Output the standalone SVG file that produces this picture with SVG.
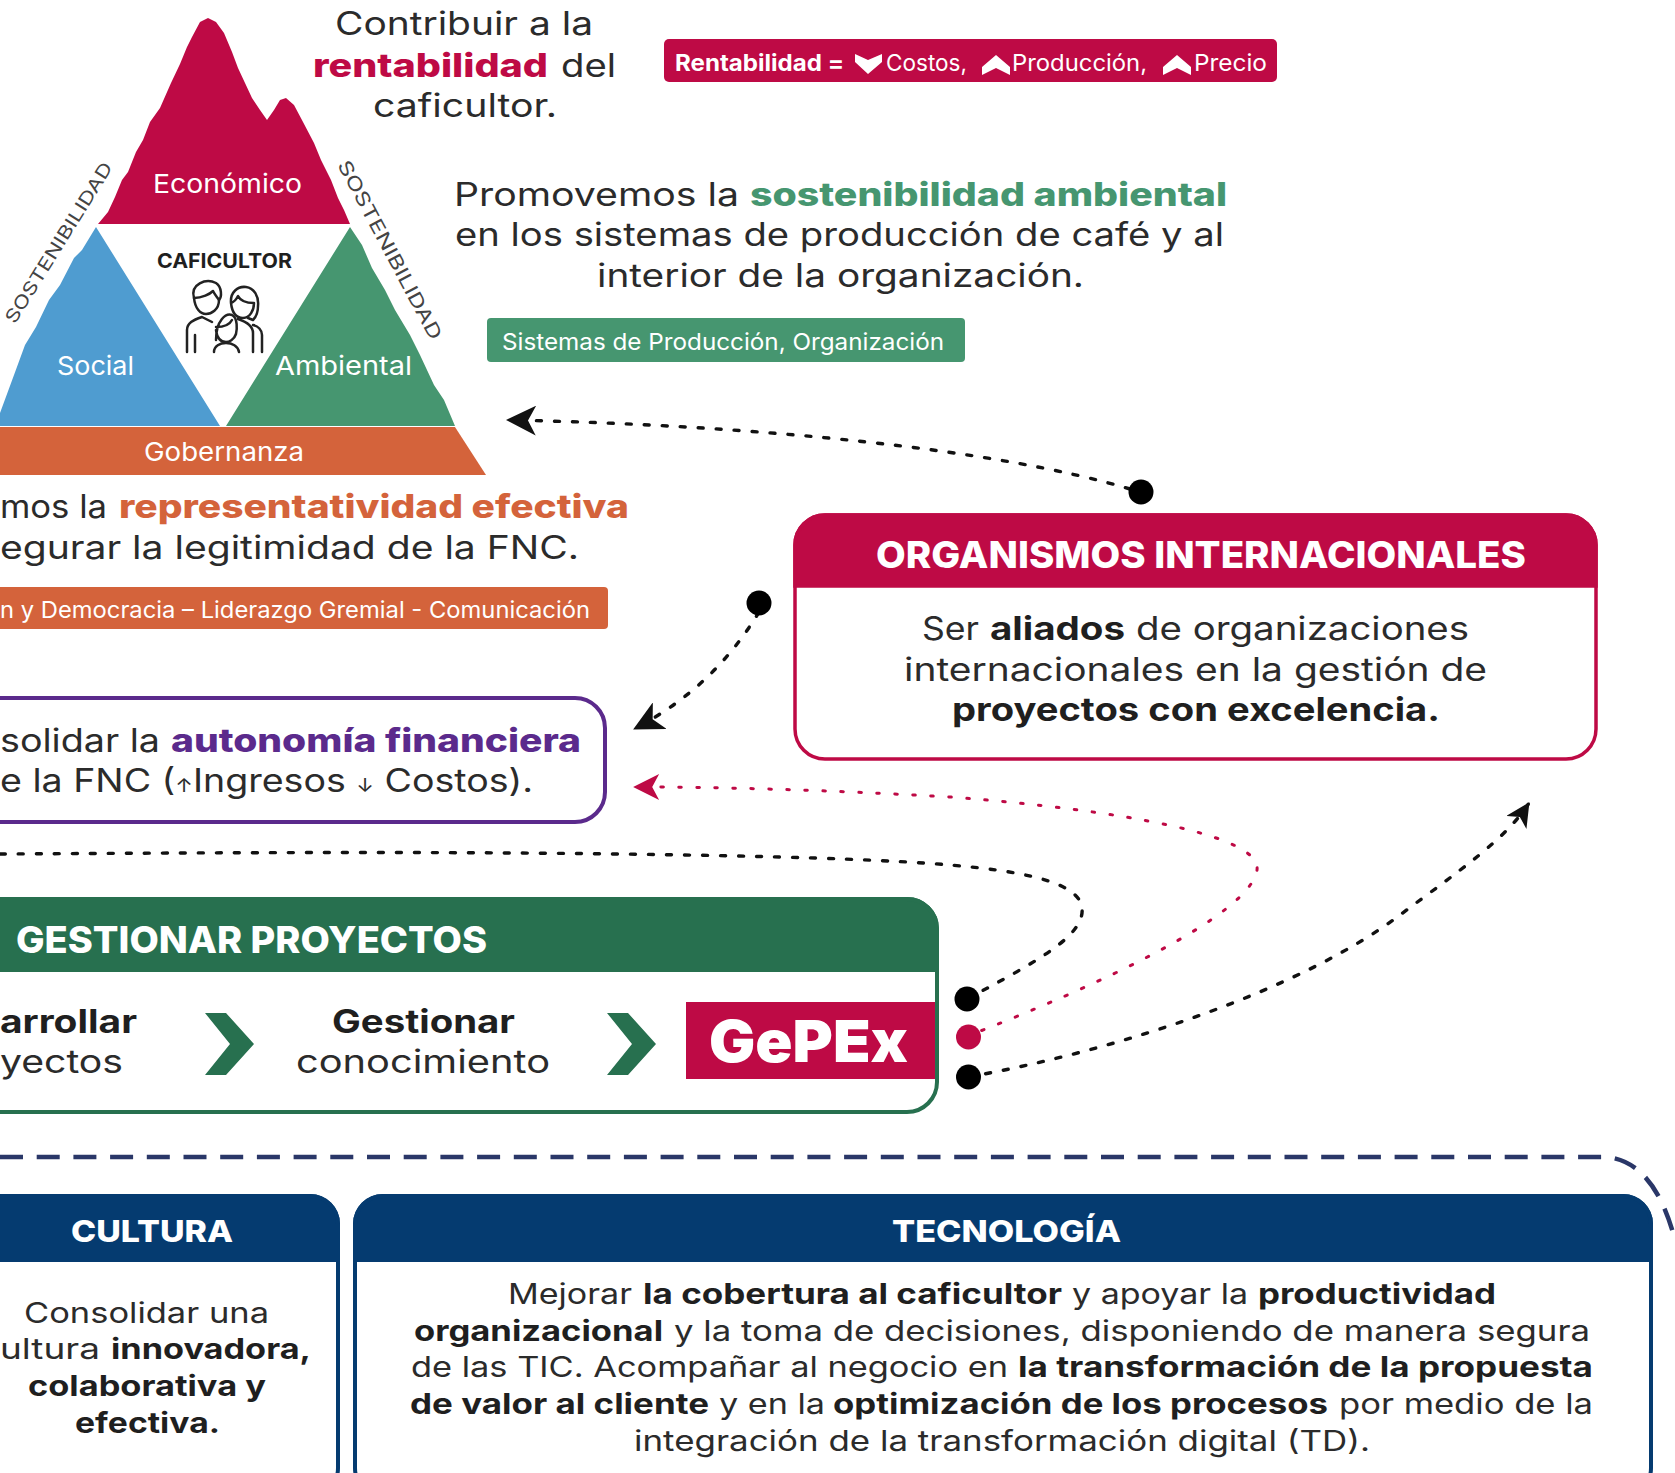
<svg xmlns="http://www.w3.org/2000/svg" width="1675" height="1473" viewBox="0 0 1675 1473">
<style>
text{font-family:"Inter","Liberation Sans",sans-serif;fill:#2b2b2b}
.m{font-size:32px}.s{font-size:28.5px}.b{font-weight:700;fill:#1f1f1f}
.w{fill:#fff}.tag{font-size:23px;fill:#fff}
.h{font-size:37px;font-weight:800;fill:#fff}
.h2{font-size:30px;font-weight:800;fill:#fff}
.n{font-size:26px;fill:#fff}
.red{fill:#BE0A45;font-weight:800}.grn{fill:#469670;font-weight:800}.org{fill:#D4633B;font-weight:800}.pur{fill:#5B2A8C;font-weight:800}
.dot{stroke-linecap:round;fill:none;stroke:#111;stroke-width:3.4;stroke-dasharray:5 13}
.dr{stroke:#BE0A45;stroke-width:3;stroke-dasharray:2.5 15.5}
.ic{fill:none;stroke:#222;stroke-width:2.5;stroke-linecap:round;stroke-linejoin:round}
</style>
<defs>
<marker id="ah" markerUnits="userSpaceOnUse" viewBox="0 0 30 30" refX="29" refY="15" markerWidth="30" markerHeight="30" orient="auto"><path d="M30,15 L0,0 L8,15 L0,30Z" fill="#111"/></marker>
<marker id="ahs" markerUnits="userSpaceOnUse" viewBox="0 0 30 30" refX="29" refY="15" markerWidth="24" markerHeight="24" orient="auto"><path d="M30,15 L0,0 L8,15 L0,30Z" fill="#111"/></marker>
<marker id="ahr" markerUnits="userSpaceOnUse" viewBox="0 0 30 30" refX="29" refY="15" markerWidth="28" markerHeight="26" orient="auto"><path d="M30,15 L0,0 L8,15 L0,30Z" fill="#BE0A45"/></marker>
</defs>
<rect width="1675" height="1473" fill="#fff"/>

<g id="piramide">
<path fill="#BE0A45" d="M98,224 L108,212 L115,197 L122,180 L128,172 L136,152 L143,140 L150,122 L160,108 L171,83 L180,64 L187,47 L192,37 L200,22 L208,18 L216,22 L224,33 L232,52 L238,68 L245,83 L252,98 L260,110 L267,120 L274,110 L280,100 L286,98 L294,105 L303,122 L314,143 L321,160 L331,180 L338,198 L344,210 L350,224Z"/>
<path fill="#4F9CD0" d="M96,227 L82,250 L74,258 L60,285 L49,300 L36,327 L25,345 L14,375 L0,413 L0,426 L220,426Z"/>
<path fill="#469670" d="M350,227 L226,426 L455,426 L444,400 L434,385 L420,355 L410,335 L395,310 L385,290 L372,268 L362,245Z"/>
<path fill="#D4633B" d="M0,427 H455 L486,475 H0Z"/>
<text class="n" x="153" y="193" textLength="149" lengthAdjust="spacingAndGlyphs">Económico</text>
<text class="n" x="57" y="375" textLength="77" lengthAdjust="spacingAndGlyphs">Social</text>
<text class="n" x="275" y="375" textLength="137" lengthAdjust="spacingAndGlyphs">Ambiental</text>
<text class="n" x="144" y="461" textLength="160" lengthAdjust="spacingAndGlyphs">Gobernanza</text>
<text transform="translate(64,246) rotate(-58)" x="-93" y="0" font-size="18" textLength="186" lengthAdjust="spacingAndGlyphs" style="fill:#444">SOSTENIBILIDAD</text>
<text transform="translate(384,253) rotate(62)" x="-100" y="0" font-size="19" textLength="200" lengthAdjust="spacingAndGlyphs" style="fill:#444">SOSTENIBILIDAD</text>
</g>

<g id="caficultor">
<text x="157" y="268" font-size="20" class="b" textLength="135" lengthAdjust="spacingAndGlyphs">CAFICULTOR</text>
<g class="ic">
<path d="M194,298 C190,284 206,278 216,283 C222,287 222,297 219,300 C219,310 211,314 206,314 C200,314 195,308 194,298Z"/>
<path d="M194,298 C202,298 210,294 213,291 C215,295 217,297 219,300"/>
<path d="M231,303 C230,292 238,286 246,287 C254,288 259,296 258,306 C258,312 256,317 253,320 L248,318 M231,303 C232,312 236,318 243,318 C250,318 254,310 254,303 C246,303 240,300 238,296 C236,300 234,302 231,303"/>
<path d="M216,340 C216,320 226,313 232,315 C238,318 237,330 236,334 C234,340 229,342 226,342 C221,342 217,338 216,330 M216,327 C224,327 230,324 232,320"/>
<path d="M187,352 V330 C187,323 193,320 202,317 L212,322 M195,352 V335 M253,352 V333 C253,326 247,322 238,319 M262,352 V335 C262,330 258,326 253,325 M214,352 C214,346 220,343 226,343 C232,343 238,346 239,352"/>
</g>
</g>

<g id="rentabilidad">
<text class="m"><tspan x="335" y="35" textLength="258" lengthAdjust="spacingAndGlyphs">Contribuir a la</tspan></text>
<text class="m"><tspan class="red" x="313" y="77" textLength="235" lengthAdjust="spacingAndGlyphs">rentabilidad</tspan><tspan x="561" y="77" textLength="55" lengthAdjust="spacingAndGlyphs">del</tspan></text>
<text class="m"><tspan x="373" y="117" textLength="184" lengthAdjust="spacingAndGlyphs">caficultor.</tspan></text>
<rect x="664" y="39" width="613" height="43" rx="5" fill="#BE0A45"/>
<text class="tag" font-weight="700"><tspan x="675" y="71" textLength="169" lengthAdjust="spacingAndGlyphs" font-weight="700">Rentabilidad =</tspan></text>
<path d="M855,54 L868,60 L882,54 L882,62 L868,74 L855,62Z" fill="#fff"/>
<text class="tag" x="886" y="71" textLength="81" lengthAdjust="spacingAndGlyphs">Costos,</text>
<path d="M982,75 L996,68 L1010,75 L1010,67 L996,55 L982,67Z" fill="#fff"/>
<text class="tag" x="1012" y="71" textLength="135" lengthAdjust="spacingAndGlyphs">Producción,</text>
<path d="M1163,75 L1177,68 L1191,75 L1191,67 L1177,55 L1163,67Z" fill="#fff"/>
<text class="tag" x="1194" y="71" textLength="73" lengthAdjust="spacingAndGlyphs">Precio</text>
</g>

<g id="ambiental">
<text class="m"><tspan x="454" y="206" textLength="285" lengthAdjust="spacingAndGlyphs">Promovemos la</tspan><tspan class="grn" x="750" y="206" textLength="477" lengthAdjust="spacingAndGlyphs">sostenibilidad ambiental</tspan></text>
<text class="m" x="455" y="246" textLength="769" lengthAdjust="spacingAndGlyphs">en los sistemas de producción de café y al</text>
<text class="m" x="597" y="287" textLength="487" lengthAdjust="spacingAndGlyphs">interior de la organización.</text>
<rect x="487" y="318" width="478" height="44" rx="4" fill="#469670"/>
<text class="tag" x="502" y="350" textLength="442" lengthAdjust="spacingAndGlyphs">Sistemas de Producción, Organización</text>
</g>

<g id="gobernanza">
<text class="m"><tspan x="0" y="518" textLength="107" lengthAdjust="spacingAndGlyphs">mos la</tspan><tspan class="org" x="119" y="518" textLength="510" lengthAdjust="spacingAndGlyphs">representatividad efectiva</tspan></text>
<text class="m" x="0" y="559" textLength="579" lengthAdjust="spacingAndGlyphs">egurar la legitimidad de la FNC.</text>
<rect x="-10" y="587" width="618" height="42" rx="4" fill="#D4633B"/>
<text class="tag" x="0" y="618" textLength="590" lengthAdjust="spacingAndGlyphs">n y Democracia – Liderazgo Gremial - Comunicación</text>
</g>

<g id="autonomia">
<rect x="-40" y="698" width="645" height="124" rx="30" fill="#fff" stroke="#5B2A8C" stroke-width="4"/>
<text class="m"><tspan x="0" y="752" textLength="160" lengthAdjust="spacingAndGlyphs">solidar la</tspan><tspan class="pur" x="171" y="752" textLength="410" lengthAdjust="spacingAndGlyphs">autonomía financiera</tspan></text>
<text class="m" x="0" y="792" textLength="533" lengthAdjust="spacingAndGlyphs">e la FNC (<tspan font-size="18">↑</tspan>Ingresos <tspan font-size="18">↓</tspan> Costos).</text>
</g>

<g id="organismos">
<rect x="795" y="515" width="801" height="244" rx="30" fill="#fff" stroke="#BE0A45" stroke-width="3.5"/>
<path d="M795,586 V545 A30,30 0 0 1 825,515 H1566 A30,30 0 0 1 1596,545 V586Z" fill="#BE0A45" stroke="#BE0A45" stroke-width="3.5"/>
<text class="h" x="876" y="568" textLength="650" lengthAdjust="spacingAndGlyphs">ORGANISMOS INTERNACIONALES</text>
<text class="m"><tspan x="922" y="640" textLength="57" lengthAdjust="spacingAndGlyphs">Ser</tspan><tspan class="b" x="990" y="640" textLength="135" lengthAdjust="spacingAndGlyphs">aliados</tspan><tspan x="1136" y="640" textLength="333" lengthAdjust="spacingAndGlyphs">de organizaciones</tspan></text>
<text class="m" x="904" y="681" textLength="583" lengthAdjust="spacingAndGlyphs">internacionales en la gestión de</text>
<text class="m b" x="952" y="721" textLength="488" lengthAdjust="spacingAndGlyphs">proyectos con excelencia.</text>
</g>

<g id="gestionar">
<rect x="-40" y="899" width="977" height="213" rx="30" fill="#fff" stroke="#27704F" stroke-width="4"/>
<path d="M-40,970 V929 A30,30 0 0 1 -10,899 H907 A30,30 0 0 1 937,929 V970Z" fill="#27704F" stroke="#27704F" stroke-width="4"/>
<text class="h" x="16" y="953" textLength="471" lengthAdjust="spacingAndGlyphs">GESTIONAR PROYECTOS</text>
<text class="m b" x="0" y="1033" textLength="137" lengthAdjust="spacingAndGlyphs">arrollar</text>
<text class="m" x="0" y="1073" textLength="123" lengthAdjust="spacingAndGlyphs">yectos</text>
<path d="M205,1013 H226 L254,1044 L226,1075 H205 L230,1044Z" fill="#27704F"/>
<text class="m b" x="332" y="1033" textLength="183" lengthAdjust="spacingAndGlyphs">Gestionar</text>
<text class="m" x="296" y="1073" textLength="254" lengthAdjust="spacingAndGlyphs">conocimiento</text>
<path d="M607,1013 H628 L656,1044 L628,1075 H607 L632,1044Z" fill="#27704F"/>
<rect x="686" y="1002" width="249" height="77" fill="#BE0A45"/>
<text x="709" y="1062" font-size="58" font-weight="900" textLength="199" lengthAdjust="spacingAndGlyphs" style="fill:#fff">GePEx</text>
</g>

<g id="conectores">
<path class="dot" marker-end="url(#ah)" d="M1130,489 C1000,450 760,425 507,420"/>
<path class="dot" marker-end="url(#ah)" d="M759,612 C730,660 690,700 634,729"/>
<path class="dot dr" marker-end="url(#ahr)" d="M965,1037 C1100,985 1250,915 1257,870 C1262,835 1120,810 950,797 C830,790 720,787 634,787"/>
<path class="dot" d="M967,999 C1040,960 1085,935 1082,908 C1078,870 960,862 780,857 C500,850 200,853 0,854"/>
<path class="dot" marker-end="url(#ahs)" d="M968,1077 C1120,1050 1300,990 1400,915 C1460,870 1505,840 1529,803"/>
<circle cx="1141" cy="492" r="12.5" fill="#000"/>
<circle cx="759" cy="603" r="12.5" fill="#000"/>
<circle cx="967" cy="999" r="12.5" fill="#000"/>
<circle cx="968.5" cy="1037" r="12.5" fill="#BE0A45"/>
<circle cx="968.5" cy="1077" r="12.5" fill="#000"/>
<path d="M0,1157 H1606 C1640,1160 1662,1190 1675,1240" fill="none" stroke="#2A3768" stroke-width="4.5" stroke-dasharray="23 13.7"/>
</g>

<g id="cultura">
<rect x="-40" y="1196" width="378" height="300" rx="28" fill="#fff" stroke="#053B70" stroke-width="4"/>
<path d="M-40,1260 V1224 A28,28 0 0 1 -12,1196 H310 A28,28 0 0 1 338,1224 V1260Z" fill="#053B70" stroke="#053B70" stroke-width="4"/>
<text class="h2" x="71" y="1242" textLength="162" lengthAdjust="spacingAndGlyphs">CULTURA</text>
<text class="s" x="24" y="1323" textLength="245" lengthAdjust="spacingAndGlyphs">Consolidar una</text>
<text class="s"><tspan x="0" y="1359" textLength="100" lengthAdjust="spacingAndGlyphs">ultura</tspan><tspan class="b" x="111" y="1359" textLength="200" lengthAdjust="spacingAndGlyphs">innovadora,</tspan></text>
<text class="s b" x="28" y="1396" textLength="238" lengthAdjust="spacingAndGlyphs">colaborativa y</text>
<text class="s b" x="75" y="1433" textLength="145" lengthAdjust="spacingAndGlyphs">efectiva.</text>
</g>

<g id="tecnologia">
<rect x="355" y="1196" width="1296" height="300" rx="28" fill="#fff" stroke="#053B70" stroke-width="4"/>
<path d="M355,1260 V1224 A28,28 0 0 1 383,1196 H1623 A28,28 0 0 1 1651,1224 V1260Z" fill="#053B70" stroke="#053B70" stroke-width="4"/>
<text class="h2" x="892" y="1242" textLength="229" lengthAdjust="spacingAndGlyphs">TECNOLOGÍA</text>
<text class="s"><tspan x="508" y="1304" textLength="124" lengthAdjust="spacingAndGlyphs">Mejorar</tspan><tspan class="b" x="643" y="1304" textLength="419" lengthAdjust="spacingAndGlyphs">la cobertura al caficultor</tspan><tspan x="1072" y="1304" textLength="176" lengthAdjust="spacingAndGlyphs">y apoyar la</tspan><tspan class="b" x="1258" y="1304" textLength="238" lengthAdjust="spacingAndGlyphs">productividad</tspan></text>
<text class="s"><tspan class="b" x="414" y="1341" textLength="249" lengthAdjust="spacingAndGlyphs">organizacional</tspan><tspan x="674" y="1341" textLength="916" lengthAdjust="spacingAndGlyphs">y la toma de decisiones, disponiendo de manera segura</tspan></text>
<text class="s"><tspan x="411" y="1377" textLength="597" lengthAdjust="spacingAndGlyphs">de las TIC. Acompañar al negocio en</tspan><tspan class="b" x="1018" y="1377" textLength="575" lengthAdjust="spacingAndGlyphs">la transformación de la propuesta</tspan></text>
<text class="s"><tspan class="b" x="410" y="1414" textLength="299" lengthAdjust="spacingAndGlyphs">de valor al cliente</tspan><tspan x="719" y="1414" textLength="106" lengthAdjust="spacingAndGlyphs">y en la</tspan><tspan class="b" x="833" y="1414" textLength="495" lengthAdjust="spacingAndGlyphs">optimización de los procesos</tspan><tspan x="1339" y="1414" textLength="254" lengthAdjust="spacingAndGlyphs">por medio de la</tspan></text>
<text class="s" x="634" y="1451" textLength="736" lengthAdjust="spacingAndGlyphs">integración de la transformación digital (TD).</text>
</g>
</svg>
